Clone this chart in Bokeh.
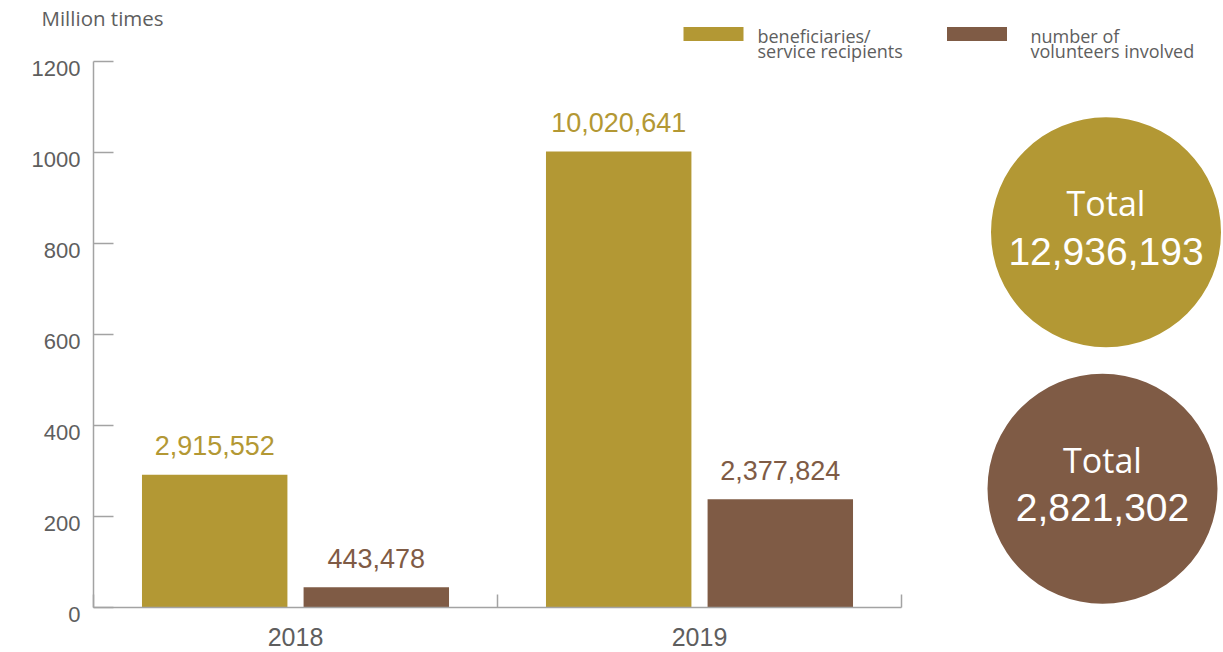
import numpy as np
from bokeh.plotting import figure
from bokeh.models import Range1d, FixedTicker, LinearAxis, ColumnDataSource
from bokeh.core.properties import value
from bokeh.embed import file_html
from bokeh.resources import INLINE

# ---------------- data ----------------
years = ["2018", "2019"]
beneficiaries = [2915552, 10020641]
volunteers = [443478, 2377824]
y_ticks = [0, 200, 400, 600, 800, 1000, 1200]
unit_label = "Million times"
series_names = ["beneficiaries/\nservice recipients", "number of\nvolunteers involved"]
total_word = "Total"

# ---------------- style / layout ----------------
GOLD = "#B39834"
BROWN = "#7F5B45"
AXIS = "#A3A3A3"
TXT = "#5E5E5E"
NUM = "Liberation Sans"
HUM = "Open Sans"
NUM_FONT = value(NUM)
HUM_FONT = value(HUM)

PAGE_OFF = 0               # observed page offset of the canvas
W, H = 1223, 652
AX_X, AX_Y = 93, 45        # axis origin (px from figure left / bottom)
PX_X = 404                 # px per category
PX_Y = 0.455               # px per axis unit
SCALE = 10000              # raw value -> axis unit


def to_x(page_x):
    return (page_x - PAGE_OFF - AX_X) / PX_X


def to_y(page_y):
    return (PAGE_OFF + H - page_y - AX_Y) / PX_Y


p = figure(width=W, height=H, output_backend="svg", toolbar_location=None,
           x_range=Range1d(-AX_X / PX_X, (W - AX_X) / PX_X),
           y_range=Range1d(-AX_Y / PX_Y, (H - AX_Y) / PX_Y),
           x_axis_location=None, y_axis_location=None,
           min_border=0, min_border_left=0, min_border_right=0,
           min_border_top=0, min_border_bottom=0,
           outline_line_color=None, background_fill_color="white",
           border_fill_color="white")
p.grid.visible = False

n = len(years)

# ---------------- axes ----------------
yaxis = LinearAxis(ticker=FixedTicker(ticks=y_ticks, minor_ticks=[]),
                   bounds=(y_ticks[0], y_ticks[-1]), fixed_location=0,
                   axis_line_color=AXIS, axis_line_width=1.5,
                   major_tick_in=20, major_tick_out=0,
                   major_tick_line_color=AXIS, major_tick_line_width=1.5,
                   minor_tick_line_color=None,
                   major_label_text_font_size="0px",
                   major_label_text_color=None)
p.add_layout(yaxis, "left")

# y tick labels (sit just below their ticks, as in the reference)
p.text(x=[0] * len(y_ticks), y=y_ticks, text=[str(t) for t in y_ticks],
       x_offset=-13, y_offset=7, text_align="right", text_baseline="middle",
       text_font=NUM_FONT, text_font_size="22px", text_color=TXT)

xaxis = LinearAxis(ticker=FixedTicker(ticks=list(np.arange(n) + 0.5),
                                      minor_ticks=list(range(n + 1))),
                   bounds=(0, n), fixed_location=0,
                   axis_line_color=AXIS, axis_line_width=1.5,
                   major_tick_line_color=None, major_tick_in=0, major_tick_out=0,
                   minor_tick_in=13, minor_tick_out=0,
                   minor_tick_line_color=AXIS, minor_tick_line_width=1.5,
                   major_label_overrides={float(i + 0.5): y for i, y in enumerate(years)},
                   major_label_standoff=20,
                   major_label_text_font=NUM,
                   major_label_text_font_size="25px",
                   major_label_text_color=TXT)
p.add_layout(xaxis, "below")

# ---------------- bars ----------------
OFFSET, BAR_W = 0.2, 0.36
xc = np.arange(n) + 0.5
for vals, col, sign in [(beneficiaries, GOLD, -1), (volunteers, BROWN, 1)]:
    src = ColumnDataSource(dict(
        x=xc + sign * OFFSET,
        top=np.array(vals) / SCALE,
        label=[f"{v:,}" for v in vals]))
    p.vbar(x="x", top="top", bottom=0, width=BAR_W, source=src,
           fill_color=col, line_color=None)
    p.text(x="x", y="top", text="label", source=src, y_offset=-29,
           text_align="center", text_baseline="alphabetic",
           text_font=NUM_FONT, text_font_size="27px", text_color=col)

# ---------------- unit label ----------------
p.text(x=[to_x(41)], y=[to_y(17)], text=[unit_label], text_align="left",
       text_baseline="middle", text_font=HUM_FONT, text_font_size="20.5px",
       text_color=TXT)

# ---------------- legend ----------------
sw_x = [to_x(713), to_x(976.5)]
sw_y = [to_y(33.5), to_y(33.5)]
p.rect(x=sw_x, y=sw_y, width=60, height=14, width_units="screen",
       height_units="screen", fill_color=[GOLD, BROWN], line_color=None)
txt_x0 = [to_x(757), to_x(1030)]
lx, ly, lt = [], [], []
for i, name in enumerate(series_names):
    for j, line in enumerate(name.split("\n")):
        lx.append(txt_x0[i])
        ly.append(to_y(35 + 15 * j))
        lt.append(line)
p.text(x=lx, y=ly, text=lt, text_align="left", text_baseline="alphabetic",
       text_font=HUM_FONT, text_font_size="18px", text_color=TXT)

# ---------------- totals circles ----------------
totals = [sum(beneficiaries), sum(volunteers)]
csrc = ColumnDataSource(dict(
    x=[to_x(1105.5), to_x(1102)],
    y=[to_y(231.7), to_y(488.3)],
    color=[GOLD, BROWN],
    word=[total_word] * 2,
    num=[f"{t:,}" for t in totals]))
p.scatter(x="x", y="y", size=230, marker="circle", source=csrc,
          fill_color="color", line_color=None)
p.text(x="x", y="y", text="word", source=csrc, y_offset=-29,
       text_align="center", text_baseline="alphabetic",
       text_font=HUM_FONT, text_font_size="34px", text_color="white")
p.text(x="x", y="y", text="num", source=csrc, y_offset=19,
       text_align="center", text_baseline="alphabetic",
       text_font=NUM_FONT, text_font_size="39px", text_color="white")

open("out.html", "w").write(file_html(p, INLINE))
